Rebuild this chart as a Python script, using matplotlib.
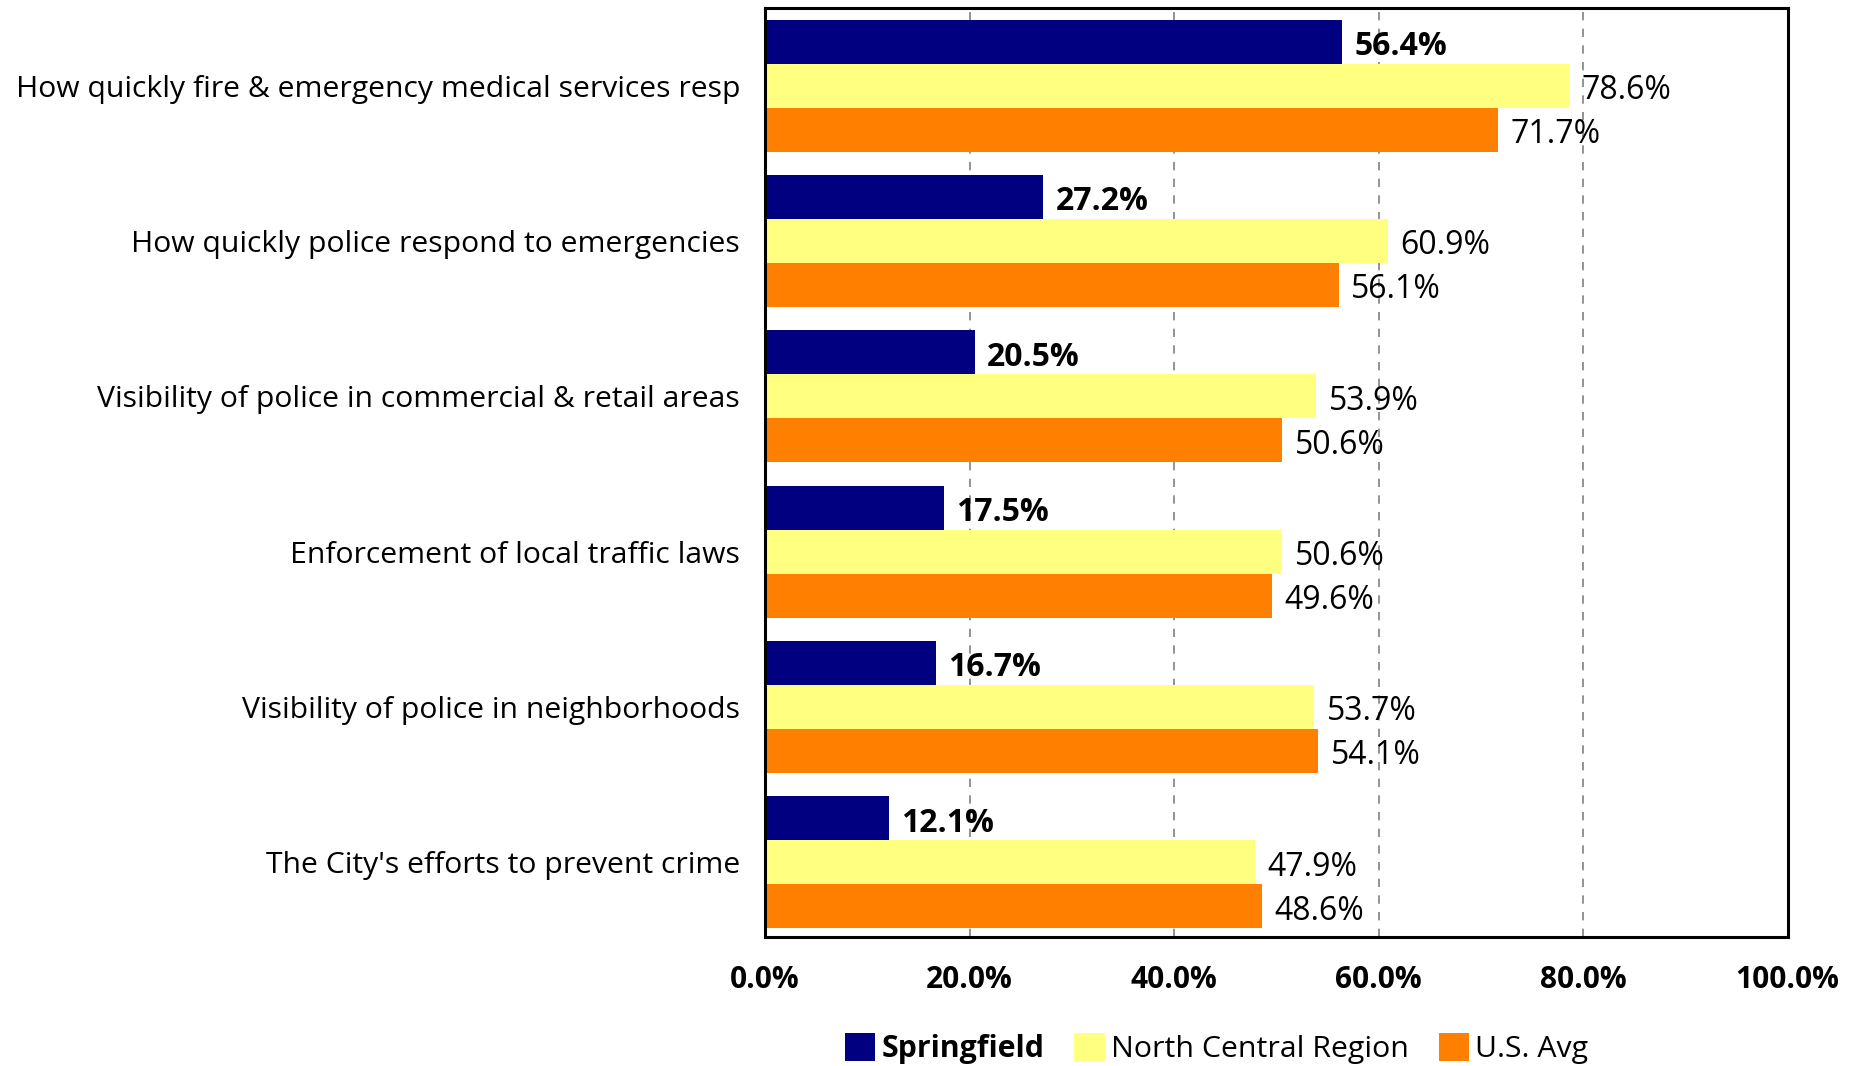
import matplotlib
matplotlib.use("Agg")
import matplotlib.pyplot as plt
import numpy as np

categories = [
    "How quickly fire & emergency medical services resp",
    "How quickly police respond to emergencies",
    "Visibility of police in commercial & retail areas",
    "Enforcement of local traffic laws",
    "Visibility of police in neighborhoods",
    "The City's efforts to prevent crime",
]
springfield = [56.4, 27.2, 20.5, 17.5, 16.7, 12.1]
north_central = [78.6, 60.9, 53.9, 50.6, 53.7, 47.9]
us_avg = [71.7, 56.1, 50.6, 49.6, 54.1, 48.6]
series_names = ["Springfield", "North Central Region", "U.S. Avg"]
colors = ["#000080", "#FFFF80", "#FF8000"]
xticks = [0, 20, 40, 60, 80, 100]

plt.rcParams['font.family'] = ['Open Sans', 'DejaVu Sans']

fig = plt.figure(figsize=(18.66, 10.66), dpi=100)
ax = fig.add_axes([0.410, 0.121, 0.548, 0.8715])

y = np.arange(len(categories))
h = 0.283
series = [springfield, north_central, us_avg]
offsets = [-h, 0, h]
for vals, off, col, name, in zip(series, offsets, colors, series_names):
    bars = ax.barh(y + off, vals, height=h, color=col, label=name, zorder=2)
    bold = name == "Springfield"
    for b, v in zip(bars, vals):
        ax.text(v + 1.2, b.get_y() + b.get_height() / 2 + 0.03, f"{v:.1f}%",
                va='center', ha='left', fontsize=23,
                fontweight='bold' if bold else 'normal', color='black', zorder=3)

ax.set_xlim(0, 100)
ax.set_ylim(5.48, -0.5)
ax.set_xticks(xticks)
ax.set_xticklabels([f"{t:.1f}%" for t in xticks], fontsize=21.5, fontweight='bold')
ax.set_yticks(y)
ax.set_yticklabels(categories, fontsize=21.7)
ax.tick_params(axis='both', length=0)
ax.tick_params(axis='x', pad=20)
ax.tick_params(axis='y', pad=18)
for xv in [20, 40, 60, 80]:
    ax.axvline(xv, color='#808080', linestyle=(0, (5, 5)), linewidth=1.2, zorder=1)
for s in ax.spines.values():
    s.set_linewidth(2.2)
    s.set_color('black')

handles, labels = ax.get_legend_handles_labels()
leg = fig.legend(handles, labels, loc='center', bbox_to_anchor=(0.652, 0.016),
                 ncol=3, frameon=False, fontsize=21.8, handlelength=1.0,
                 handleheight=1.0, handletextpad=0.2, columnspacing=1.0)
for t in leg.get_texts():
    if t.get_text() == "Springfield":
        t.set_fontweight('bold')

fig.savefig("out.png", dpi=100)
